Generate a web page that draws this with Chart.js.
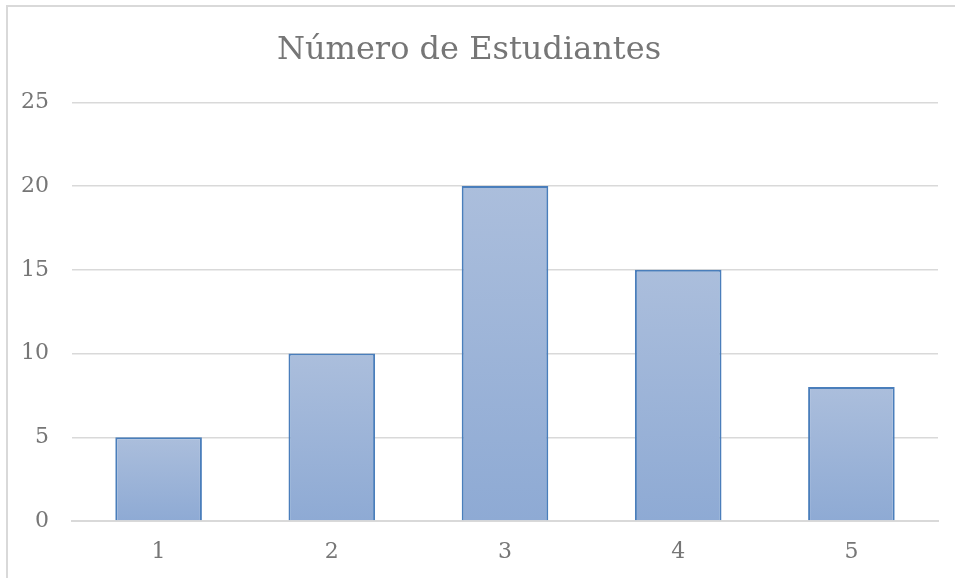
<!DOCTYPE html>
<html>
<head>
<meta charset="utf-8">
<script src="https://cdn.jsdelivr.net/npm/chart.js@4"></script>
<style>
  html, body { margin: 0; padding: 0; background: #fff; }
  #wrap { position: relative; width: 955px; height: 578px; }
  #frame { position: absolute; left: 6px; top: 5px; width: 949px; height: 573px;
           border-left: 2px solid #d9d9d9; border-top: 2px solid #d9d9d9; box-sizing: border-box; pointer-events: none; }
  canvas { position: absolute; left: 0; top: 0; }
</style>
</head>
<body>
<div id="wrap">
  <canvas id="c" width="955" height="578"></canvas>
  <div id="frame"></div>
</div>
<script>
const titleText = 'Número de Estudiantes';
const categories = ['1', '2', '3', '4', '5'];
const students = [5, 10, 20, 15, 8];
const yTicks = [0, 5, 10, 15, 20, 25];

const fontFamily = '"DejaVu Serif", "Liberation Serif", serif';
const textColor = '#767676';

function barGradient(ctx) {
  const chart = ctx.chart;
  const ys = chart.scales && chart.scales.y;
  if (!ys || ctx.parsed === undefined || !chart.chartArea) return '#9fb4d9';
  const top = ys.getPixelForValue(ctx.parsed.y);
  const base = ys.getPixelForValue(0);
  if (!isFinite(top) || !isFinite(base) || top === base) return '#9fb4d9';
  const g = chart.ctx.createLinearGradient(0, top, 0, base);
  g.addColorStop(0, '#abbedc');
  g.addColorStop(1, '#8eaad4');
  return g;
}

new Chart(document.getElementById('c'), {
  type: 'bar',
  data: {
    labels: categories,
    datasets: [{
      label: titleText,
      data: students,
      backgroundColor: barGradient,
      borderColor: '#4a7ebb',
      borderWidth: 2,
      borderSkipped: 'start',
      categoryPercentage: 1.0,
      barPercentage: 0.5
    }]
  },
  options: {
    responsive: false,
    animation: false,
    devicePixelRatio: 1,
    layout: { padding: { left: 0, right: 17, top: 0, bottom: 15 } },
    plugins: {
      legend: { display: false },
      tooltip: { enabled: false },
      title: {
        display: true,
        text: titleText,
        color: textColor,
        font: { family: fontFamily, size: 32, weight: 'normal' },
        padding: { top: 31, bottom: 33 }
      }
    },
    scales: {
      x: {
        afterFit: (s) => { s.height = 42; },
        grid: { display: false, drawTicks: false },
        border: { display: true, color: '#d9d9d9', width: 2 },
        ticks: { color: textColor, font: { family: fontFamily, size: 22 }, padding: 18 }
      },
      y: {
        min: 0,
        max: 25,
        afterFit: (s) => { s.width = 72; },
        afterBuildTicks: (s) => { s.ticks = yTicks.map(v => ({ value: v })); },
        grid: { color: '#d9d9d9', lineWidth: 1.5, drawTicks: false },
        border: { display: false },
        ticks: { color: textColor, font: { family: fontFamily, size: 22 }, padding: 23, stepSize: 5 }
      }
    }
  }
});
</script>
</body>
</html>
